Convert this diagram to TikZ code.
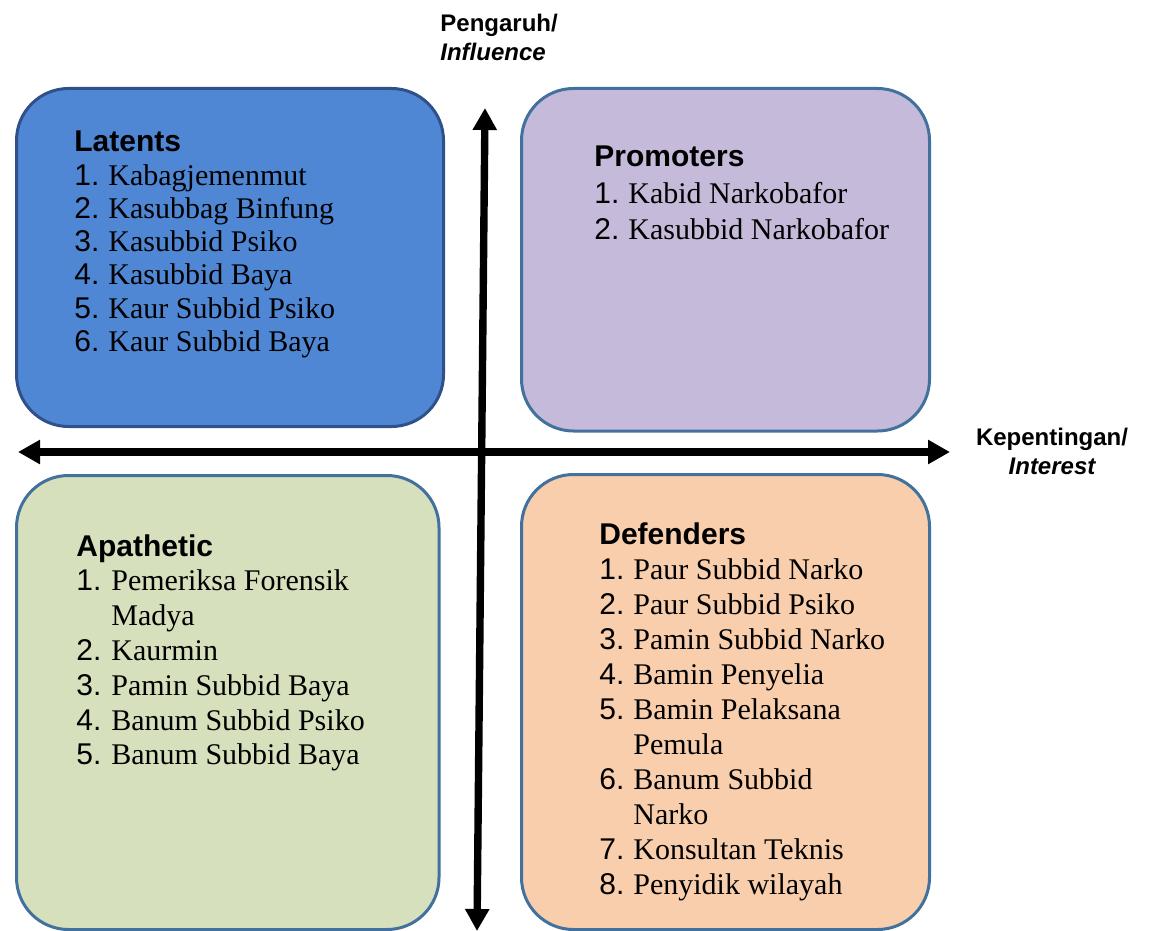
\documentclass[tikz,border=0pt]{standalone}
\usepackage{array}
\usepackage{fontspec}
\setmainfont{Liberation Serif}
\setsansfont{Liberation Sans}
\usetikzlibrary{calc, arrows.meta}

\definecolor{latentfill}{HTML}{4F87D5}
\definecolor{latentline}{HTML}{2F5089}
\definecolor{promofill}{HTML}{C5BAD9}
\definecolor{apathyfill}{HTML}{D6E0BC}
\definecolor{defendfill}{HTML}{F8CEAC}
\definecolor{boxline}{HTML}{41719C}

\newcommand{\quadhead}[1]{\multicolumn{2}{@{}l@{}}{\sffamily\bfseries #1}\\}
\newcommand{\quaditem}[2]{#1.&#2\\}

\tikzset{
  quad/.style={rectangle, rounded corners=26pt, line width=1.5pt, draw=boxline},
  list/.style={inner sep=0pt, anchor=base west},
  axis/.style={line width=3.7pt, {Triangle[length=11pt,width=11.5pt]}-{Triangle[length=11pt,width=11.5pt]}},
  axislabel/.style={inner sep=0pt, font=\sffamily\bfseries\fontsize{12pt}{14.5pt}\selectfont}
}

\begin{document}
\begin{tikzpicture}[x=0.5pt,y=-0.5pt]
  \useasboundingbox (0,0) rectangle (1151,931);
  \clip (0,0) rectangle (1151,931);

  % quadrants
  \node[quad, fill=latentfill, draw=latentline, minimum width=213.5pt, minimum height=169pt] (latents) at (230,257.5) {};
  \node[quad, fill=promofill, minimum width=204pt, minimum height=171.25pt] (promoters) at (725.5,259.75) {};
  \node[quad, fill=apathyfill, minimum width=211.25pt, minimum height=227pt] (apathetic) at (227.75,702.5) {};
  \node[quad, fill=defendfill, minimum width=204pt, minimum height=227.5pt] (defenders) at (725.5,702) {};

  % lists
  \node[list] (latentsList) at (74,152) {\fontsize{15pt}{16.6pt}\selectfont
    \begin{tabular}[t]{@{}>{\sffamily}p{17pt}@{}l@{}}
      \quadhead{Latents}
      \quaditem{1}{Kabagjemenmut}
      \quaditem{2}{Kasubbag Binfung}
      \quaditem{3}{Kasubbid Psiko}
      \quaditem{4}{Kasubbid Baya}
      \quaditem{5}{Kaur Subbid Psiko}
      \quaditem{6}{Kaur Subbid Baya}
    \end{tabular}};
  \node[list] (promotersList) at (594,167) {\fontsize{15pt}{18pt}\selectfont
    \begin{tabular}[t]{@{}>{\sffamily}p{17pt}@{}l@{}}
      \quadhead{Promoters}
      \quaditem{1}{Kabid Narkobafor}
      \quaditem{2}{Kasubbid Narkobafor}
    \end{tabular}};
  \node[list] (apatheticList) at (76,556) {\fontsize{15pt}{17.4pt}\selectfont
    \begin{tabular}[t]{@{}>{\sffamily}p{17.5pt}@{}l@{}}
      \quadhead{Apathetic}
      \quaditem{1}{Pemeriksa Forensik}
      & Madya\\
      \quaditem{2}{Kaurmin}
      \quaditem{3}{Pamin Subbid Baya}
      \quaditem{4}{Banum Subbid Psiko}
      \quaditem{5}{Banum Subbid Baya}
    \end{tabular}};
  \node[list] (defendersList) at (599,544) {\fontsize{15pt}{17.5pt}\selectfont
    \begin{tabular}[t]{@{}>{\sffamily}p{17pt}@{}l@{}}
      \quadhead{Defenders}
      \quaditem{1}{Paur Subbid Narko}
      \quaditem{2}{Paur Subbid Psiko}
      \quaditem{3}{Pamin Subbid Narko}
      \quaditem{4}{Bamin Penyelia}
      \quaditem{5}{Bamin Pelaksana}
      & Pemula\\
      \quaditem{6}{Banum Subbid}
      & Narko\\
      \quaditem{7}{Konsultan Teknis}
      \quaditem{8}{Penyidik wilayah}
    \end{tabular}};

  % axes
  \coordinate (west) at (18,452);
  \coordinate (east) at (950,452);
  \coordinate (north) at (485,108);
  \coordinate (south) at (477,931);
  \draw[axis] (west) -- (east);
  \draw[axis] (south) -- (north);

  \node[axislabel, anchor=base west] (influence) at (440,32)
    {\begin{tabular}[t]{@{}l@{}}Pengaruh/\\\itshape Influence\end{tabular}};
  \node[axislabel, anchor=base] (interest) at (1052,445)
    {\begin{tabular}[t]{@{}c@{}}Kepentingan/\\\itshape Interest\end{tabular}};
\end{tikzpicture}
\end{document}
